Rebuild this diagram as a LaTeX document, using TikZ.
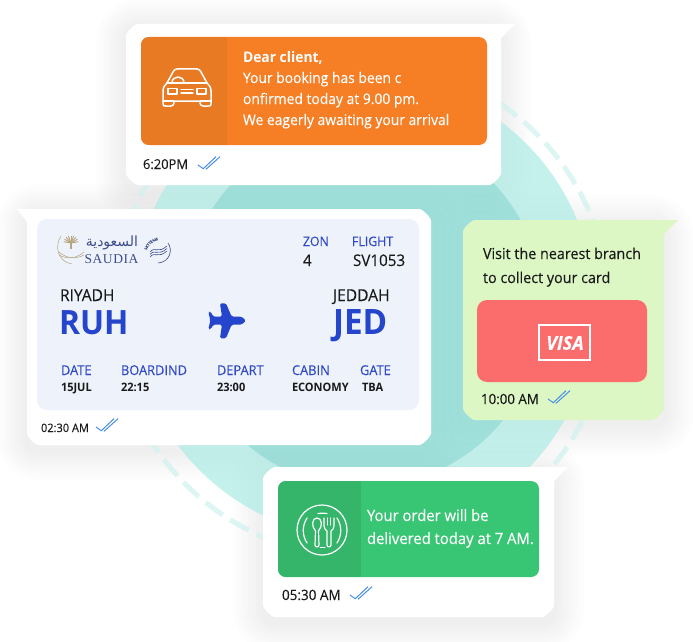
\documentclass[tikz,border=0pt]{standalone}
\usepackage{fontspec}
\setmainfont[FakeStretch=.95,FakeBold=.12,BoldFeatures={FakeBold=0}]{Open Sans}
\newfontfamily\arabicfont[Script=Arabic]{DejaVu Sans}
\newfontfamily\logofont{Liberation Serif}
\TeXXeTstate=1
\usetikzlibrary{decorations.text}
\definecolor{circL}{HTML}{C5F1ED}
\definecolor{circD}{HTML}{A3E3DE}
\definecolor{ringC}{HTML}{DDF5F3}
\definecolor{orangeA}{HTML}{F67E25}
\definecolor{orangeB}{HTML}{E87A24}
\definecolor{greenA}{HTML}{38C674}
\definecolor{greenB}{HTML}{35B56A}
\definecolor{limeA}{HTML}{DDF7C4}
\definecolor{redA}{HTML}{FB6D6D}
\definecolor{panelA}{HTML}{EEF3FB}
\definecolor{blueA}{HTML}{2F49C7}
\definecolor{blueB}{HTML}{2545CC}
\definecolor{tickA}{HTML}{4A8FE7}
\definecolor{inkA}{HTML}{1A1A1A}
\definecolor{goldA}{HTML}{B5A57D}
\definecolor{navyA}{HTML}{3D4C8C}
\tikzset{
  txt/.style={anchor=base west,inner sep=0pt,outer sep=0pt,text=inkA},
  sz/.style={font=\fontsize{#1}{#1}\selectfont},
  icon/.style={draw=white,line width=1.5pt,line join=round,line cap=round},
  tickmark/.style={draw=tickA,line width=1pt},
}
% #1 = list of layers, #2..#5 = box
\newcommand{\softshadow}[5]{%
  \foreach \i in {#1}{%
    \fill[black,fill opacity=.005,rounded corners={12pt+\i*2.5pt}]
      ({#2-\i*2.5},{#3-\i*2.5+5}) rectangle ({#4+\i*2.5},{#5+\i*2.5+5});
  }}
\newcommand{\bubble}[6]{% x1 y1 x2 y2 colour side(1 right, 0 left)
  \ifnum#6=1
    \fill[#5] (#3+14,#2) -- (#3,#2+14) -- (#3,#4-12)
      to[out=-90,in=0,looseness=.55] (#3-12,#4) -- (#1+12,#4)
      to[out=180,in=-90,looseness=.55] (#1,#4-12) -- (#1,#2+12)
      to[out=90,in=180,looseness=.55] (#1+12,#2) -- cycle;
  \else
    \fill[#5] (#1-10,#2) -- (#1,#2+13) -- (#1,#4-12)
      to[out=-90,in=180,looseness=.55] (#1+12,#4) -- (#3-12,#4)
      to[out=0,in=-90,looseness=.55] (#3,#4-12) -- (#3,#2+12)
      to[out=90,in=0,looseness=.55] (#3-12,#2) -- cycle;
  \fi}
\newcommand{\ticks}[2]{%
  \draw[tickmark] (#1,#2) -- ++(5.3,3.7) -- ++(12.7,-12);
  \draw[tickmark] (#1+8,#2+4.3) -- ++(14,-12.6);}
\begin{document}
\begin{tikzpicture}[x=1pt,y=-1pt]
\useasboundingbox (0,0) rectangle (693,642);
\clip (0,0) rectangle (693,642);
% full shadows on the white ground
\softshadow{1,...,12}{126}{24}{501}{185}
\softshadow{1,...,12}{27}{209}{431}{445}
\softshadow{1,...,12}{463}{220}{664}{420}
\softshadow{1,...,12}{263}{467}{554}{617}
% background circles
\fill[circL] (363,307) circle[radius=231];
\fill[circD] (363,307) circle[radius=180];
\draw[ringC,line width=5pt,dash pattern=on 21pt off 9pt,dash phase=19pt]
  plot[domain=0:360,samples=361,smooth] ({361+248*cos(\x)},{309-248*sin(\x)});
% faint shadows over the circles
\softshadow{3,6,9,12}{126}{24}{501}{185}
\softshadow{3,6,9,12}{27}{209}{431}{445}
\softshadow{3,6,9,12}{463}{220}{664}{420}
\softshadow{3,6,9,12}{263}{467}{554}{617}
% --- orange bubble
\bubble{126}{24}{501}{185}{white}{1}
\fill[orangeA,rounded corners=8pt] (141,37) rectangle (487,145);
\begin{scope}
  \clip[rounded corners=8pt] (141,37) rectangle (487,145);
  \fill[orangeB] (141,37) rectangle (227,145);
\end{scope}
\draw[icon] (163,104) -- (163,91) .. controls (163,87) and (165,85) .. (167,83)
  -- (173,72) .. controls (174,70) and (175,69) .. (177,69) -- (197,69)
  .. controls (199,69) and (200,70) .. (201,72) -- (207,83)
  .. controls (209,85) and (211,87) .. (211,91) -- (211,104)
  .. controls (211,106) and (210,106) .. (208,106) -- (203,106)
  .. controls (201,106) and (200,105) .. (200,101) -- (174,101)
  .. controls (174,105) and (173,106) .. (171,106) -- (166,106)
  .. controls (164,106) and (163,106) .. (163,104);
\draw[icon] (163,101) -- (174,101) (200,101) -- (211,101);
\draw[icon] (167,83) -- (207,83);
\draw[icon] (172,83) .. controls (172,75) and (184,75) .. (184,83);
\draw[icon] (168,88.5) rectangle (177,94);
\draw[icon] (197,88.5) rectangle (206,94);
\draw[icon] (181,89.5) -- (193,89.5) (181,92.8) -- (193,92.8);
\node[txt,sz=14.6,text=white] (o1) at (243,63) {\bfseries Dear client,};
\node[txt,sz=14.6,text=white] (o2) at (243,83) {Your booking has been c};
\node[txt,sz=14.6,text=white] (o3) at (243,104) {onfirmed today at 9.00 pm.};
\node[txt,sz=14.6,text=white] (o4) at (243,125) {We eagerly awaiting your arrival};
\node[txt,sz=13.6] (ot) at (143,169) {6:20PM};
\ticks{198}{165}
% --- ticket bubble
\bubble{27}{209}{431}{445}{white}{0}
\fill[panelA,rounded corners=10pt] (37,219) rectangle (419,410);
% logo
\begin{scope}[goldA,line width=.5pt]
  \foreach \a in {-80,-60,...,80}{\draw[line width=.9pt] (71,243) -- ++({\a+90}:{-7.5});}
  \draw[line width=1.6pt] (71,243) -- (71,249);
  \draw (59,252) .. controls (66,258) and (75,260) .. (84,255);
  \draw (84,252) .. controls (77,258) and (68,260) .. (59,255);
  \draw (61,236) .. controls (54,246) and (58,262) .. (72,264);
\end{scope}
\node[anchor=center,inner sep=0pt,text=navyA,font=\arabicfont\fontsize{14}{14}\selectfont] (la) at (112,243) {\beginR السعودية\endR};
\node[txt,text=navyA,font=\logofont\fontsize{13.5}{13.5}\selectfont] (ls) at (84.5,263) {S\kern.6pt A\kern.6pt U\kern.6pt D\kern.6pt I\kern.6pt A};
\begin{scope}[navyA,line width=.6pt]
  \draw (168,243) .. controls (173,250) and (170,262) .. (158,263);
  \foreach \d in {0,2.5,5}{\draw (150,{252+\d}) .. controls (155,{246+\d}) and (158,{254+\d}) .. (167,{246+\d});}
\end{scope}
\path[decorate,decoration={text along path,text={|\fontsize{3.8}{3.8}\selectfont\color{navyA}|SKYTEAM},text align=center}]
  (147,258) .. controls (144,247) and (153,238) .. (166,240);
% ticket texts
\node[txt,sz=13,text=blueA] (zl) at (303,246) {ZON};
\node[txt,sz=13,text=blueA] (fl) at (352,246) {FLIGHT};
\node[txt,sz=16] (zv) at (303,266) {4};
\node[txt,sz=16] (fv) at (353,266) {SV1053};
\node[txt,sz=16.4] (ri) at (60,301) {RIYADH};
\node[txt,sz=16.4] (je) at (333,301) {JEDDAH};
\node[txt,text=blueB,font=\fontsize{33.5}{33.5}\selectfont\bfseries] (ru) at (59,334) {RUH};
\node[txt,text=blueB,font=\fontsize{35}{35}\selectfont\bfseries] (jd) at (333,334) {JED};
\begin{scope}[shift={(10,200)},x=.3333pt,y=-.3333pt]
  \fill[blueB,rounded corners=1.5pt] (708,362) -- (695,350) -- (665,350) -- (648,310) -- (630,310) -- (636,350)
   -- (610,350) -- (602,335) -- (595,335) -- (601,362) -- (595,388) -- (602,388) -- (610,374)
   -- (636,374) -- (630,415) -- (648,415) -- (665,374) -- (695,374) -- cycle;
\end{scope}
\node[txt,sz=13.5,text=blueA] (h1) at (61,375) {DATE};
\node[txt,sz=13.5,text=blueA] (h2) at (121,375) {BOARDIND};
\node[txt,sz=13.5,text=blueA] (h3) at (217,375) {DEPART};
\node[txt,sz=13.5,text=blueA] (h4) at (292,375) {CABIN};
\node[txt,sz=13.5,text=blueA] (h5) at (360,375) {GATE};
\node[txt,font=\fontsize{11.6}{11.6}\selectfont\bfseries] (v1) at (61,391) {15JUL};
\node[txt,font=\fontsize{11.6}{11.6}\selectfont\bfseries] (v2) at (121,391) {22:15};
\node[txt,font=\fontsize{11.6}{11.6}\selectfont\bfseries] (v3) at (217,391) {23:00};
\node[txt,font=\fontsize{11.6}{11.6}\selectfont\bfseries] (v4) at (292,391) {ECONOMY};
\node[txt,font=\fontsize{11.6}{11.6}\selectfont\bfseries] (v5) at (362,391) {TBA};
\node[txt,sz=11.6] (tt) at (41,432) {02:30 AM};
\ticks{96}{427}
% --- lime bubble
\bubble{463}{220}{664}{420}{limeA}{1}
\node[txt,sz=15.1] (g1) at (483,259) {Visit the nearest branch};
\node[txt,sz=15.1] (g2) at (483,283) {to collect your card};
\fill[redA,rounded corners=10pt] (477,300) rectangle (647,382);
\draw[white,line width=2.2pt] (539,325) rectangle (590,360);
\node[anchor=center,inner sep=0pt,text=white,font=\fontsize{19}{19}\selectfont\bfseries\itshape] (vi) at (565,343) {VISA};
\node[txt,sz=14] (gt) at (481,404) {10:00 AM};
\ticks{548}{399}
% --- green bubble
\bubble{263}{467}{554}{617}{white}{1}
\fill[greenA,rounded corners=8pt] (278,481) rectangle (539,577);
\begin{scope}
  \clip[rounded corners=8pt] (278,481) rectangle (539,577);
  \fill[greenB] (278,481) rectangle (361,577);
\end{scope}
\draw[icon,line width=1.2pt] (322,530) circle[radius=25];
\draw[icon,line width=1.2pt] (307,518) .. controls (302,526) and (302,535) .. (307,543);
\draw[icon,line width=1.2pt] (337,518) .. controls (342,526) and (342,535) .. (337,543);
\draw[icon,line width=1.2pt] (318,513.5) .. controls (321,513) and (324,513) .. (327,513.5);
\draw[icon,line width=1pt] (320,547) -- (325,547);
% spoon
\draw[icon,line width=1.2pt] (315.5,531) .. controls (311,526) and (312,518) .. (317,518)
  .. controls (322,518) and (323,526) .. (318.5,531) -- (319,545)
  .. controls (319,547.5) and (315,547.5) .. (315,545) -- cycle;
% fork
\draw[icon,line width=1.2pt] (324,518) -- (324,526) .. controls (324,529) and (326,530) .. (327,531)
  -- (327,545) .. controls (327,547.5) and (331,547.5) .. (331,545) -- (331,531)
  .. controls (332,530) and (334,529) .. (334,526) -- (334,518);
\draw[icon,line width=1.2pt] (327.3,518) -- (327.3,525) (330.7,518) -- (330.7,525);
\node[txt,sz=15.6,text=white] (b1) at (367,521) {Your order will be};
\node[txt,sz=15.6,text=white] (b2) at (367,544) {delivered today at 7 AM.};
\node[txt,sz=14.2] (bt) at (282,600) {05:30 AM};
\ticks{350}{595}
\end{tikzpicture}
\end{document}
